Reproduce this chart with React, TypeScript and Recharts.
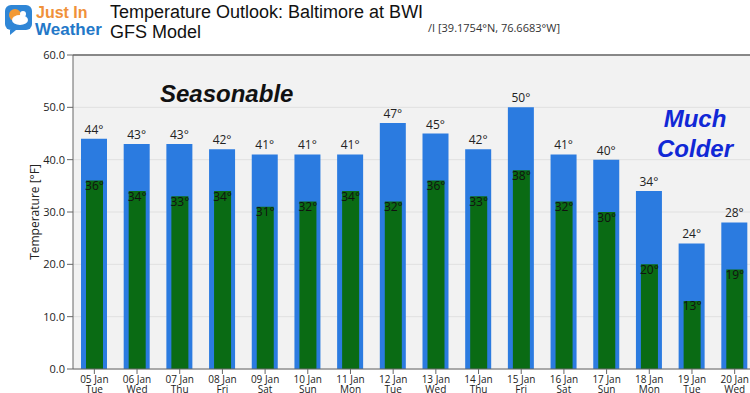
import { BarChart, Bar, XAxis, YAxis, CartesianGrid, LabelList, ReferenceLine } from 'recharts';

const dates = ['05 Jan', '06 Jan', '07 Jan', '08 Jan', '09 Jan', '10 Jan', '11 Jan', '12 Jan', '13 Jan', '14 Jan', '15 Jan', '16 Jan', '17 Jan', '18 Jan', '19 Jan', '20 Jan'];
const weekdays = ['Tue', 'Wed', 'Thu', 'Fri', 'Sat', 'Sun', 'Mon', 'Tue', 'Wed', 'Thu', 'Fri', 'Sat', 'Sun', 'Mon', 'Tue', 'Wed'];
const highs = [44, 43, 43, 42, 41, 41, 41, 47, 45, 42, 50, 41, 40, 34, 24, 28];
const lows = [36, 34, 33, 34, 31, 32, 34, 32, 36, 33, 38, 32, 30, 20, 13, 19];
const yTicks = [0, 10, 20, 30, 40, 50, 60];

const data = dates.map((d, i) => ({ date: d, day: weekdays[i], high: highs[i], low: lows[i] }));

const tickFont = '"Open Sans", "DejaVu Sans", sans-serif';
const titleFont = '"Liberation Sans", Arial, sans-serif';

function DateTick({ x, y, payload, index }: any) {
  return (
    <g transform={`translate(${x},${y})`}>
      <text textAnchor="middle" fontSize={10} fill="#222" fontFamily={tickFont}>
        <tspan x={0} y={7}>{payload.value}</tspan>
        <tspan x={0} y={17}>{weekdays[index]}</tspan>
      </text>
    </g>
  );
}

const deg = (v: any) => `${v}°`;

function Logo() {
  return (
    <svg width={30} height={32} style={{ position: 'absolute', left: 4, top: 4 }}>
      <rect x={1} y={1} width={27} height={25} rx={6} fill="#2f86d6" />
      <path d="M6 26 L6 31 L12 26 Z" fill="#2f86d6" />
      <circle cx={11} cy={11} r={6} fill="#f39a35" />
      <ellipse cx={16} cy={16} rx={8} ry={5} fill="#ffffff" />
      <circle cx={19} cy={10} r={3} fill="#ffffff" />
    </svg>
  );
}

export default function App() {
  return (
    <div style={{ position: 'absolute', left: 0, top: 0, width: 750, height: 393, overflow: 'hidden', background: '#fff' }}>
      <BarChart
        width={770}
        height={393}
        data={data}
        margin={{ top: 55, right: 14, left: 0, bottom: 0 }}
        barCategoryGap={0}
      >
        <CartesianGrid vertical={false} fill="#f2f2f2" stroke="#e0e0e0" />
        <XAxis
          dataKey="date"
          height={24}
          tick={<DateTick />}
          interval={0}
          axisLine={{ stroke: '#666' }}
          tickLine={{ stroke: '#666' }}
          tickSize={5}
        />
        <XAxis xAxisId="b" dataKey="date" hide />
        <YAxis
          width={73}
          domain={[0, 60]}
          ticks={yTicks}
          tickFormatter={(v: number) => v.toFixed(1)}
          tick={{ fontSize: 11, fill: '#222', fontFamily: tickFont }}
          axisLine={{ stroke: '#666' }}
          tickLine={{ stroke: '#666' }}
          tickSize={6}
          label={{ value: 'Temperature [°F]', angle: -90, position: 'center', dx: -2, fontSize: 12, fill: '#222', fontFamily: tickFont }}
        />
        <ReferenceLine y={60} stroke="#666" strokeWidth={1.5} />
        <Bar dataKey="high" fill="#2b7be0" barSize={26} isAnimationActive={false}>
          <LabelList dataKey="high" position="top" offset={5} formatter={deg} fontSize={12} fill="#222" fontFamily={tickFont} />
        </Bar>
        <Bar dataKey="low" xAxisId="b" fill="#0a6b14" barSize={17} isAnimationActive={false}>
          <LabelList dataKey="low" position="insideTop" offset={1} formatter={deg} fontSize={12} fill="#111" fontFamily={tickFont} />
        </Bar>
      </BarChart>

      <Logo />
      <div style={{ position: 'absolute', left: 36, top: 4, fontFamily: titleFont, fontWeight: 'bold', fontSize: 16, lineHeight: '17px', color: '#f0913a' }}>Just In</div>
      <div style={{ position: 'absolute', left: 35, top: 21, fontFamily: titleFont, fontWeight: 'bold', fontSize: 17, lineHeight: '17px', color: '#2378c8' }}>Weather</div>
      <div style={{ position: 'absolute', left: 110, top: 2, fontFamily: titleFont, fontSize: 18, lineHeight: '20px', color: '#111' }}>
        Temperature Outlook: Baltimore at BWI
        <br />
        GFS Model
      </div>
      <div style={{ position: 'absolute', left: 428, top: 20, fontFamily: tickFont, fontSize: 11, color: '#333' }}>/I [39.1754°N, 76.6683°W]</div>
      <div style={{ position: 'absolute', left: 160, top: 80, fontFamily: titleFont, fontWeight: 'bold', fontStyle: 'italic', fontSize: 24, color: '#111' }}>Seasonable</div>
      <div style={{ position: 'absolute', left: 640, top: 104, width: 110, textAlign: 'center', fontFamily: titleFont, fontWeight: 'bold', fontStyle: 'italic', fontSize: 24, lineHeight: '30px', color: '#1128d6' }}>
        Much
        <br />
        Colder
      </div>
    </div>
  );
}
